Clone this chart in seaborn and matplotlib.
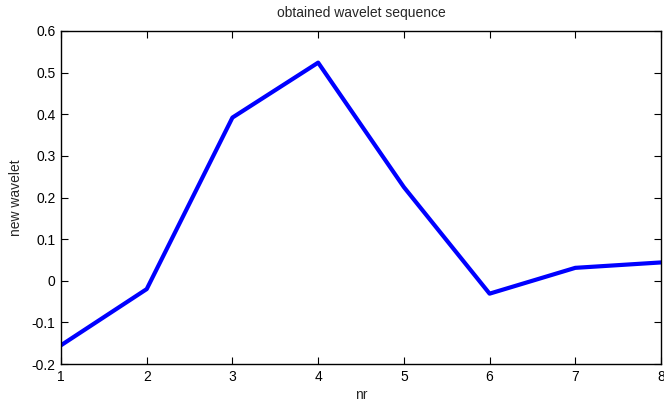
import pandas as pd
import matplotlib
matplotlib.use("Agg")
import matplotlib.pyplot as plt
import seaborn as sns

nr = [1, 2, 3, 4, 5, 6, 7, 8]
new_wavelet = [-0.155, -0.02, 0.392, 0.524, 0.225, -0.031, 0.031, 0.044]

xticks = [1, 2, 3, 4, 5, 6, 7, 8]
yticks = [-0.2, -0.1, 0, 0.1, 0.2, 0.3, 0.4, 0.5, 0.6]
ytick_labels = ['-0.2', '-0.1', '0', '0.1', '0.2', '0.3', '0.4', '0.5', '0.6']

df = pd.DataFrame({'nr': nr, 'new wavelet': new_wavelet})

sns.set_style("white")
plt.rcParams['font.family'] = ['Liberation Sans', 'DejaVu Sans']

fig = plt.figure(figsize=(6.64, 4.07), dpi=100)
ax = fig.add_axes([61 / 664, 1 - 364 / 407, 600 / 664, 333 / 407])

sns.lineplot(x='nr', y='new wavelet', data=df, ax=ax, color='#0000ff', linewidth=3)

ax.set_xlim(1, 8)
ax.set_ylim(-0.2, 0.6)
ax.set_xticks(xticks)
ax.set_yticks(yticks)
ax.set_yticklabels(ytick_labels)
ax.tick_params(direction='in', length=5, width=0.8, colors='black', labelsize=10,
               top=True, right=True, bottom=True, left=True, pad=4)
for side in ax.spines.values():
    side.set_color('black')
    side.set_linewidth(1)

ax.set_title('obtained wavelet sequence', fontsize=10, pad=10)
ax.set_xlabel('nr', fontsize=10, labelpad=3)
ax.set_ylabel('new wavelet', fontsize=10, labelpad=6)

fig.savefig('out.png', dpi=100)
